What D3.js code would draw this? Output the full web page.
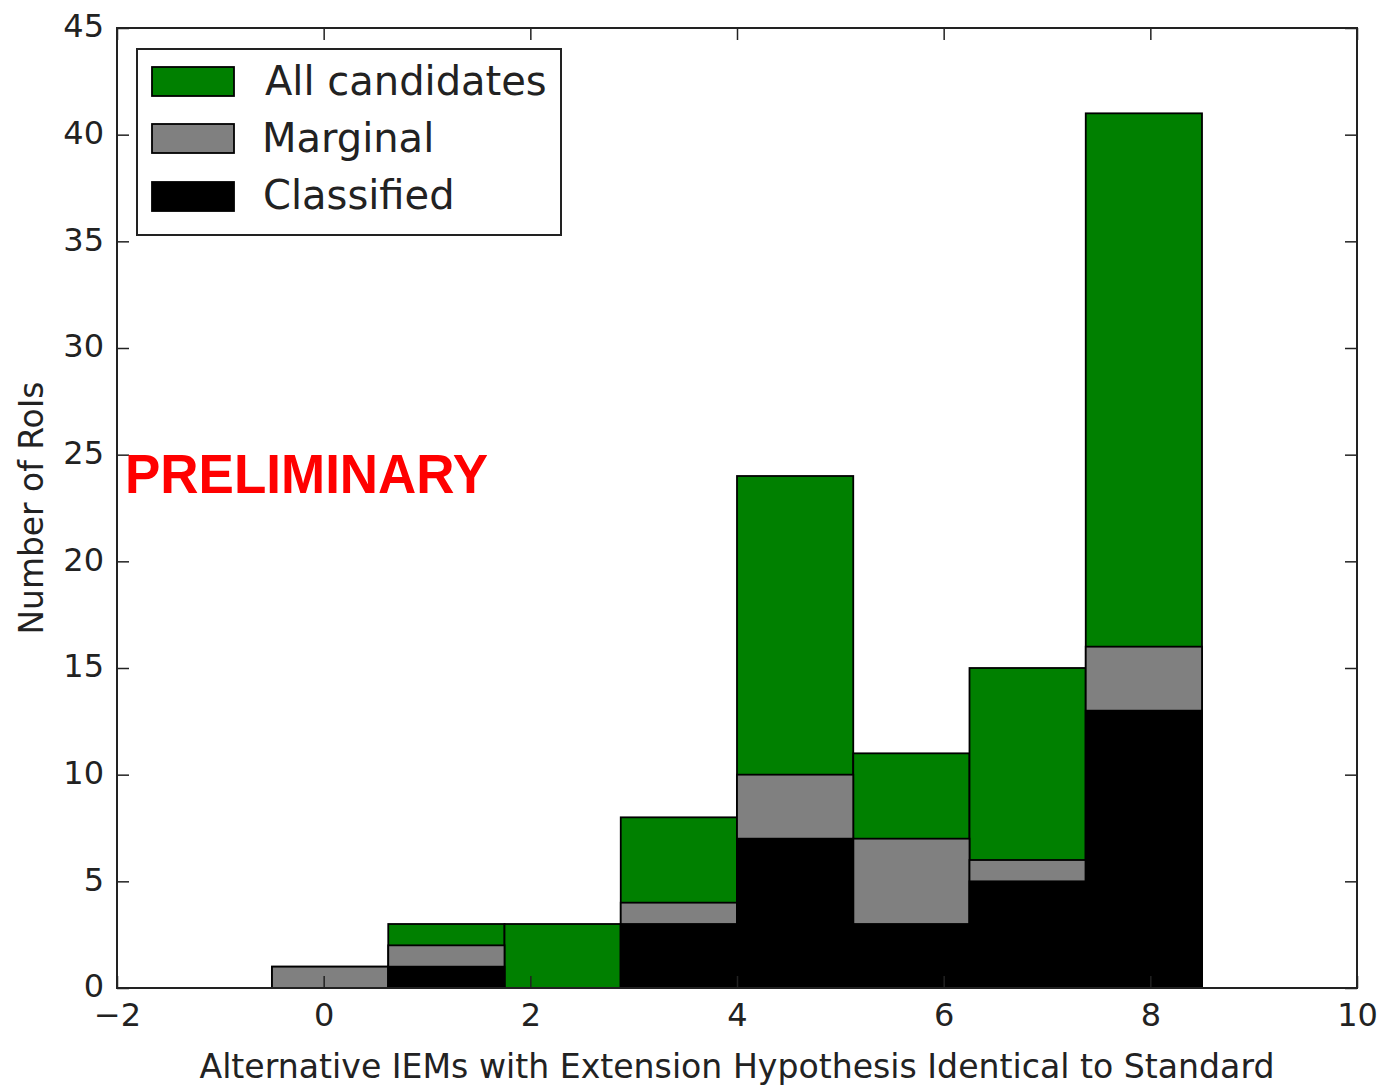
<!DOCTYPE html>
<html>
<head>
<meta charset="utf-8">
<script src="https://cdn.jsdelivr.net/npm/d3@7"></script>
<style>
  html, body { margin: 0; padding: 0; background: #fff; }
  svg { display: block; }
</style>
</head>
<body>
<div id="chart"></div>
<script>
// ---- Data ----
const binEdges = [-0.5, 0.625, 1.75, 2.875, 4.0, 5.125, 6.25, 7.375, 8.5];
const allCandidates = [1, 3, 3, 8, 24, 11, 15, 41];
const marginal = [1, 2, 0, 4, 10, 7, 6, 16];
const classified = [0, 1, 0, 3, 7, 3, 5, 13];
const seriesNames = ["All candidates", "Marginal", "Classified"];
const xTicks = [-2, 0, 2, 4, 6, 8, 10];
const yTicks = [0, 5, 10, 15, 20, 25, 30, 35, 40, 45];
const xLabel = "Alternative IEMs with Extension Hypothesis Identical to Standard";
const yLabel = "Number of RoIs";
const watermark = "PRELIMINARY";

// ---- Layout ----
const W = 1379, H = 1086;
const mLeft = 117, mRight = 1357, mTop = 28, mBottom = 988;
const colors = ["#008000", "#808080", "#000000"];
const tickFont = "'DejaVu Sans', sans-serif";

const svg = d3.select("#chart").append("svg").attr("width", W).attr("height", H);

const x = d3.scaleLinear().domain([-2, 10]).range([mLeft, mRight]);
const y = d3.scaleLinear().domain([0, 45]).range([mBottom, mTop]);

// bars
const series = [allCandidates, marginal, classified];
series.forEach((vals, si) => {
  svg.append("g").selectAll("rect").data(vals).join("rect")
    .attr("x", (d, i) => x(binEdges[i]))
    .attr("width", (d, i) => x(binEdges[i + 1]) - x(binEdges[i]))
    .attr("y", d => y(d))
    .attr("height", d => y(0) - y(d))
    .attr("fill", colors[si])
    .attr("stroke", "#000")
    .attr("stroke-width", 1.8);
});

// axes (inward ticks on all sides)
function styleAxis(g) {
  g.select(".domain").remove();
  g.selectAll(".tick line").attr("stroke", "#222").attr("stroke-width", 1.5);
  g.selectAll(".tick text").attr("fill", "#222").style("font-family", tickFont).style("font-size", "32px");
}
const fmt = d => d < 0 ? "\u2212" + Math.abs(d) : String(d);

svg.append("g").attr("transform", `translate(0,${mBottom})`)
  .call(d3.axisBottom(x).tickValues(xTicks).tickFormat(fmt).tickSizeInner(-12).tickSizeOuter(0).tickPadding(15))
  .call(styleAxis);
svg.append("g").attr("transform", `translate(0,${mTop})`)
  .call(d3.axisTop(x).tickValues(xTicks).tickFormat("").tickSizeInner(-12).tickSizeOuter(0))
  .call(styleAxis);
svg.append("g").attr("transform", `translate(${mLeft},0)`)
  .call(d3.axisLeft(y).tickValues(yTicks).tickFormat(fmt).tickSizeInner(-12).tickSizeOuter(0).tickPadding(13))
  .call(styleAxis)
  .selectAll(".tick text").attr("dy", "0.28em");
svg.append("g").attr("transform", `translate(${mRight},0)`)
  .call(d3.axisRight(y).tickValues(yTicks).tickFormat("").tickSizeInner(-12).tickSizeOuter(0))
  .call(styleAxis);

// frame
svg.append("rect")
  .attr("x", mLeft).attr("y", mTop)
  .attr("width", mRight - mLeft).attr("height", mBottom - mTop)
  .attr("fill", "none").attr("stroke", "#222").attr("stroke-width", 2);

// axis labels
svg.append("text")
  .attr("x", (mLeft + mRight) / 2).attr("y", 1078)
  .attr("text-anchor", "middle")
  .attr("textLength", 1075).attr("lengthAdjust", "spacingAndGlyphs")
  .style("font-family", tickFont).style("font-size", "33px").attr("fill", "#222")
  .text(xLabel);
svg.append("text")
  .attr("transform", `translate(43,${(mTop + mBottom) / 2}) rotate(-90)`)
  .attr("text-anchor", "middle")
  .attr("textLength", 253).attr("lengthAdjust", "spacingAndGlyphs")
  .style("font-family", tickFont).style("font-size", "33px").attr("fill", "#222")
  .text(yLabel);

// legend
const lg = svg.append("g");
lg.append("rect").attr("x", 137).attr("y", 49).attr("width", 424).attr("height", 186)
  .attr("fill", "#fff").attr("stroke", "#222").attr("stroke-width", 2);
const legendRows = [{ sy: 67, tx: 265, by: 95 }, { sy: 124, tx: 262, by: 152 }, { sy: 182, tx: 263, by: 209 }];
seriesNames.forEach((name, i) => {
  const r = legendRows[i];
  lg.append("rect").attr("x", 152).attr("y", r.sy).attr("width", 82).attr("height", 29)
    .attr("fill", colors[i]).attr("stroke", "#000").attr("stroke-width", 1.8);
  lg.append("text").attr("x", r.tx).attr("y", r.by)
    .style("font-family", tickFont).style("font-size", "40px").attr("fill", "#222")
    .text(name);
});

// watermark
svg.append("text")
  .attr("x", 125).attr("y", 493)
  .attr("textLength", 363).attr("lengthAdjust", "spacingAndGlyphs")
  .style("font-family", "'Liberation Sans', Arial, sans-serif")
  .style("font-weight", "bold").style("font-size", "55px")
  .attr("fill", "#ff0000")
  .text(watermark);
</script>
</body>
</html>
